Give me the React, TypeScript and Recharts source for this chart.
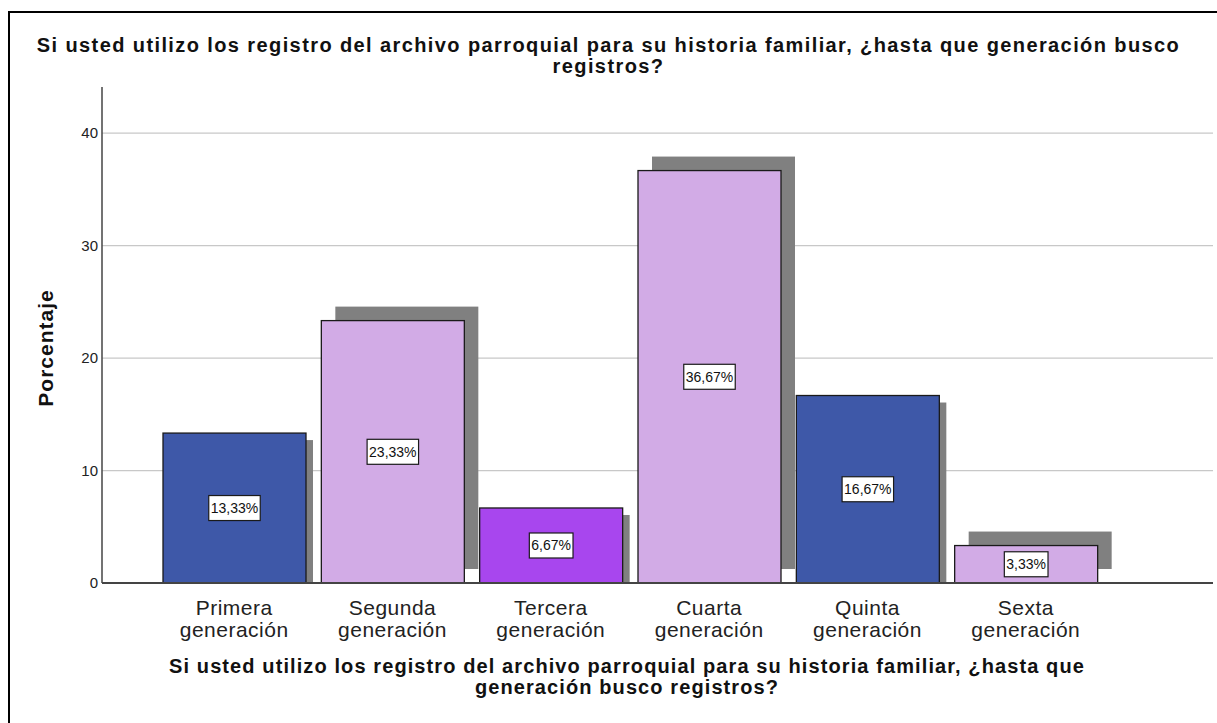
import React from 'react';
import { BarChart, Bar, XAxis, YAxis, CartesianGrid, LabelList } from 'recharts';

const categories = [
  ['Primera', 'generación'],
  ['Segunda', 'generación'],
  ['Tercera', 'generación'],
  ['Cuarta', 'generación'],
  ['Quinta', 'generación'],
  ['Sexta', 'generación'],
];
const percentages = [13.33, 23.33, 6.67, 36.67, 16.67, 3.33];
const valueLabels = ['13,33%', '23,33%', '6,67%', '36,67%', '16,67%', '3,33%'];
const yTicks = [0, 10, 20, 30, 40];
const gridValues = [10, 20, 30, 40];

const titleLines = [
  'Si usted utilizo los registro del archivo parroquial para su historia familiar, ¿hasta que generación busco',
  'registros?',
];
const xTitleLines = [
  'Si usted utilizo los registro del archivo parroquial para su historia familiar, ¿hasta que',
  'generación busco registros?',
];
const yTitle = 'Porcentaje';

const DARK = '#3E58A8';
const LIGHT = '#D2ABE6';
const PURPLE = '#A846EE';
const barColors = [DARK, LIGHT, PURPLE, LIGHT, DARK, LIGHT];
const shadowUp = [false, true, false, true, false, true];

const data = categories.map((c, i) => ({
  key: c.join(' '),
  value: percentages[i],
  label: valueLabels[i],
}));

const FONT = '"Liberation Sans", Arial, Helvetica, sans-serif';

const ShadowBar = (props: any) => {
  const { x, y, width, height, index } = props;
  const up = shadowUp[index];
  const dx = up ? 14 : 7;
  const dy = up ? -14 : 7;
  return (
    <g>
      <rect x={x + dx} y={y + dy} width={width} height={height} fill="#808080" />
      <rect x={x} y={y} width={width} height={height} fill={barColors[index]} stroke="#1a1a1a" strokeWidth={1.3} />
    </g>
  );
};

const charW = (ch: string) => {
  if (ch === ',') return 0.278;
  if (ch === '%') return 0.889;
  return 0.556;
};

const ValueLabel = (props: any) => {
  const { x, y, width, height, value } = props;
  const fs = 14;
  const tw = String(value).split('').reduce((s: number, c: string) => s + charW(c), 0) * fs;
  const bw = tw + 4;
  const bh = 25;
  const cx = x + width / 2;
  const cy = y + height / 2;
  return (
    <g>
      <rect x={cx - bw / 2} y={cy - bh / 2} width={bw} height={bh} fill="#fff" stroke="#1a1a1a" strokeWidth={1.2} />
      <text x={cx} y={cy + 5} textAnchor="middle" fontSize={fs} fontFamily={FONT} fill="#111">{value}</text>
    </g>
  );
};

const CatTick = (props: any) => {
  const { x, y, index } = props;
  const lines = categories[index] || [];
  return (
    <g>
      {lines.map((l, i) => (
        <text key={i} x={x} y={y + 32 + i * 22} textAnchor="middle" fontSize={21} letterSpacing={0.5} fontFamily={FONT} fill="#222">{l}</text>
      ))}
    </g>
  );
};

const YTick = (props: any) => {
  const { x, y, payload } = props;
  return (
    <text x={x - 4} y={y + 5} textAnchor="end" fontSize={15} fontFamily={FONT} fill="#222">{payload.value}</text>
  );
};

export default function App() {
  return (
    <div style={{ position: 'absolute', left: 0, top: 0, width: 1217, height: 723, background: '#fff', overflow: 'hidden', fontFamily: FONT }}>
      <div style={{ position: 'absolute', left: 8, top: 11, width: 1300, height: 800, borderLeft: '2px solid #000', borderTop: '2px solid #000' }} />
      <div style={{ position: 'absolute', left: 0, width: 1217, top: 35, textAlign: 'center', fontWeight: 'bold', fontSize: 20, letterSpacing: '1.4px', lineHeight: '21px', color: '#111', whiteSpace: 'nowrap' }}>
        {titleLines.map((l, i) => <div key={i}>{l}</div>)}
      </div>
      <div style={{ position: 'absolute', left: 0, top: 0 }}>
        <BarChart width={1217} height={723} data={data} margin={{ top: 87, right: 4, bottom: 0, left: 40 }} barSize={143}>
          <CartesianGrid vertical={false} horizontalValues={gridValues} stroke="#c8c8c8" strokeWidth={1.3} />
          <XAxis dataKey="key" interval={0} tickLine={false} tickSize={0} tickMargin={0} height={140}
            padding={{ left: 53, right: 108 }} axisLine={{ stroke: '#444', strokeWidth: 2 }} tick={<CatTick />} />
          <YAxis domain={[0, 44.1]} ticks={yTicks} width={62} tickLine={false} tickSize={0} tickMargin={0}
            axisLine={{ stroke: '#444', strokeWidth: 1.5 }} tick={<YTick />} allowDataOverflow />
          <Bar dataKey="value" isAnimationActive={false} shape={<ShadowBar />}>
            <LabelList dataKey="label" content={<ValueLabel />} />
          </Bar>
        </BarChart>
      </div>
      <div style={{ position: 'absolute', left: 46, top: 348, width: 0, height: 0 }}>
        <div style={{ position: 'absolute', left: -100, top: -12, width: 200, textAlign: 'center', transform: 'rotate(-90deg)', fontWeight: 'bold', fontSize: 21, letterSpacing: '1px', lineHeight: '24px', color: '#111' }}>
          {yTitle}
        </div>
      </div>
      <div style={{ position: 'absolute', left: 127, width: 1000, top: 656, textAlign: 'center', fontWeight: 'bold', fontSize: 20, letterSpacing: '1.1px', lineHeight: '21px', color: '#111', whiteSpace: 'nowrap' }}>
        {xTitleLines.map((l, i) => <div key={i}>{l}</div>)}
      </div>
    </div>
  );
}
